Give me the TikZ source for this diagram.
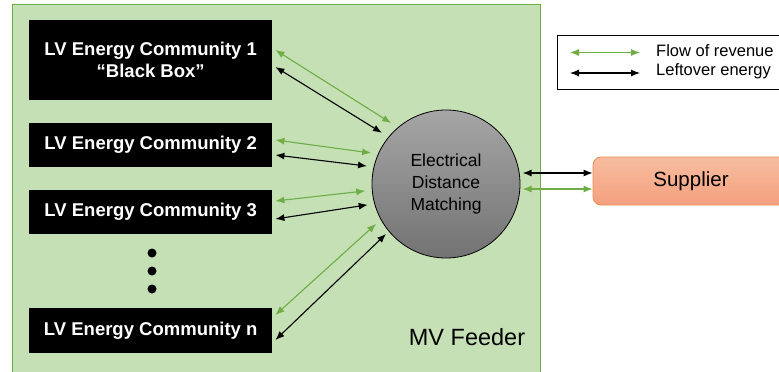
\documentclass[tikz,border=0pt]{standalone}
\usepackage{fontspec}
\setmainfont{Liberation Sans}
\usetikzlibrary{arrows.meta,calc}
\definecolor{panelfill}{HTML}{C5E0B4}
\definecolor{panelline}{HTML}{70AD47}
\definecolor{flowgreen}{HTML}{70AD47}
\definecolor{supline}{HTML}{ED8B55}
\definecolor{suptop}{HTML}{F7BDA0}
\definecolor{supbot}{HTML}{F4A07E}
\tikzset{
  lvbox/.style={fill=black, text=white, font=\fontsize{18.5}{22}\selectfont\bfseries,
    minimum width=243pt, inner sep=0pt, align=center, anchor=north west},
  dual/.style={{Latex[length=9pt,width=7pt]}-{Latex[length=9pt,width=7pt]}, line width=1.1pt},
  garrow/.style={dual, draw=flowgreen, fill=flowgreen},
  barrow/.style={dual, draw=black},
  dotnode/.style={circle, fill=black, minimum size=9pt, inner sep=0pt},
}
\begin{document}
\begin{tikzpicture}[x=1pt,y=-1pt]
\useasboundingbox (0,0) rectangle (779,372);
\clip (0,0) rectangle (779,372);
% panel
\draw[fill=panelfill, draw=panelline, line width=1pt] (12,400) -- (12,4) -- (540,4) -- (540,400);
% boxes
\node[lvbox, minimum height=80pt] (b1) at (29,20) {LV Energy Community 1\\“Black Box”};
\node[lvbox, minimum height=44pt] (b2) at (29,123) {LV Energy Community 2};
\node[lvbox, minimum height=44pt] (b3) at (29,190) {LV Energy Community 3};
\node[lvbox, minimum height=45pt] (bn) at (29,308) {LV Energy Community n};
% dots
\node[dotnode] (d1) at (152,253) {};
\node[dotnode] (d2) at (152,271) {};
\node[dotnode] (d3) at (152,289) {};
% circle
\node[circle, draw=black, line width=0.8pt, minimum size=148pt, inner sep=0pt,
  top color=black!35, bottom color=black!55, align=center,
  font=\fontsize{17.5}{22}\selectfont] (c) at (446,184) {Electrical\\Distance\\Matching};
% supplier
\node[draw=supline, line width=0.8pt, rounded corners=8pt, top color=suptop, bottom color=supbot,
  minimum width=196pt, minimum height=48pt, font=\fontsize{20.5}{24}\selectfont] (sup) at (691,181) {Supplier};
% MV feeder label
\node[font=\fontsize{23.5}{28}\selectfont] (mv) at (467,337) {MV Feeder};
% arrows community 1
\draw[garrow] ($(b1.north east)+(3,30)$) -- ($(c)+(-132:82)$);
\draw[barrow] ($(b1.north east)+(3,47)$) -- ($(c)+(-141.4:82)$);
% community 2
\draw[garrow] ($(b2.north east)+(3,17)$) -- ($(c)+(-157.5:81)$);
\draw[barrow] ($(b2.north east)+(3,32)$) -- ($(c)+(-167.2:81)$);
% community 3
\draw[garrow] ($(b3.north east)+(3,11)$) -- ($(c)+(-184.9:81)$);
\draw[barrow] ($(b3.north east)+(3,29)$) -- ($(c)+(-194.9:81)$);
% community n
\draw[garrow] ($(bn.north east)+(3,7)$) -- ($(c)+(-209.7:80.5)$);
\draw[barrow] ($(bn.north east)+(3,32)$) -- ($(c)+(-219.8:78)$);
% supplier arrows
\draw[barrow] ($(sup.west)+(0,-8)$) -- ($(sup.west)+(-70,-8)$);
\draw[garrow] ($(sup.west)+(0,8)$) -- ($(sup.west)+(-70,8)$);
% legend
\node[draw=black, line width=0.8pt, minimum width=240pt, minimum height=54pt, anchor=north west, inner sep=0pt] (leg) at (557,35) {};
\coordinate (lg1) at (570,52.5);
\coordinate (lg2) at (640,52.5);
\coordinate (lb1) at (570,73);
\coordinate (lb2) at (640,73);
\draw[garrow] (lg1) -- (lg2);
\draw[barrow] (lb1) -- (lb2);
\node[anchor=west, inner sep=0pt, font=\fontsize{16.5}{20}\selectfont] (t1) at (656,51) {Flow of revenue};
\node[anchor=west, inner sep=0pt, font=\fontsize{16.5}{20}\selectfont] (t2) at (656,71.5) {Leftover energy};
\end{tikzpicture}
\end{document}
